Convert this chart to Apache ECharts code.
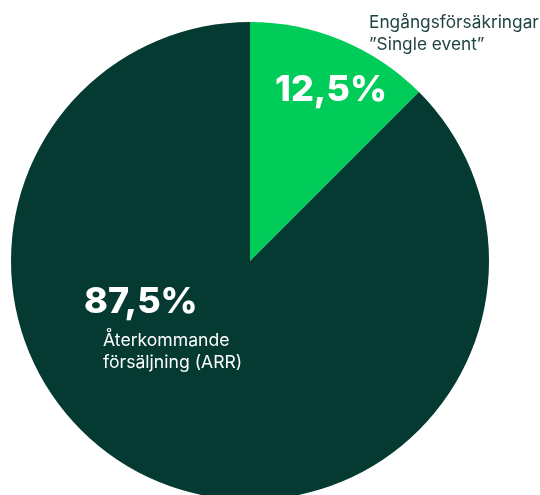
<!DOCTYPE html>
<html>
<head>
<meta charset="utf-8">
<script src="https://cdn.jsdelivr.net/npm/echarts@6/dist/echarts.min.js"></script>
<style>html,body{margin:0;padding:0;background:#fff}#c{width:540px;height:495px}</style>
</head>
<body>
<div id="c"></div>
<script>
const categories = ['Engångsförsäkringar\n”Single event”', 'Återkommande\nförsäljning (ARR)'];
const values = [12.5, 87.5];
const valueLabels = ['12,5%', '87,5%'];
const colors = ['#00cc5a', '#043a31'];

const chart = echarts.init(document.getElementById('c'), null, {renderer: 'canvas'});
const font = 'Inter, "Noto Sans", sans-serif';
chart.setOption({
  animation: false,
  series: [{
    type: 'pie',
    center: [250, 261],
    radius: [0, 239],
    startAngle: 90,
    clockwise: true,
    silent: true,
    label: {show: false},
    labelLine: {show: false},
    itemStyle: {borderWidth: 0},
    data: values.map((v, i) => ({name: categories[i], value: v, itemStyle: {color: colors[i]}}))
  }],
  graphic: [
    {type: 'text', z: 100, left: 369, top: 12, style: {text: categories[0], font: '17.3px ' + font, fill: '#1f4442', lineHeight: 22}},
    {type: 'text', z: 100, left: 275, top: 72, style: {text: valueLabels[0], font: '800 36px ' + font, fill: '#ffffff'}},
    {type: 'text', z: 100, left: 84, top: 284, style: {text: valueLabels[1], font: '800 36px ' + font, fill: '#ffffff'}},
    {type: 'text', z: 100, left: 103, top: 330, style: {text: categories[1], font: '17.6px ' + font, fill: '#ffffff', lineHeight: 22}}
  ]
});
</script>
</body>
</html>
